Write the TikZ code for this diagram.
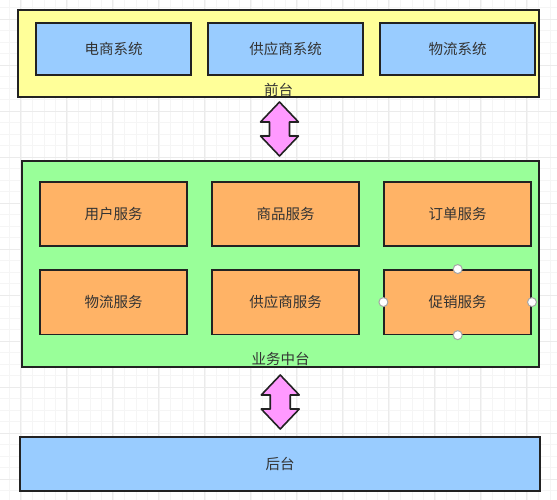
\documentclass[tikz,border=0pt]{standalone}
\usepackage{fontspec}
\setmainfont{Noto Sans CJK SC}
\usetikzlibrary{positioning, calc}
\definecolor{boxline}{HTML}{222222}
\definecolor{txt}{HTML}{333333}
\definecolor{frontyellow}{HTML}{FFFF99}
\definecolor{sysblue}{HTML}{99CCFF}
\definecolor{midgreen}{HTML}{99FF99}
\definecolor{svcorange}{HTML}{FFB366}
\definecolor{arrowpink}{HTML}{FF99FF}

\begin{document}
\begin{tikzpicture}[x=1pt,y=-1pt,font=\fontsize{14.5}{16}\selectfont,
        box/.style={draw=boxline,line width=1.6pt,inner sep=0pt,text=txt},
        layer/.style={box},
        sys/.style={box,fill=sysblue,minimum width=155pt,minimum height=52pt},
        svc/.style={box,fill=svcorange,minimum width=147pt,minimum height=64.5pt},
        layertext/.style={inner sep=0pt,text=txt},
        handle/.style={draw=gray!70,fill=white,line width=1pt},
        updown/.pic={\draw[draw=boxline,fill=arrowpink,line width=1.6pt,line join=round]
            (0,-27) -- (19,-7) -- (10,-7) -- (10,7) -- (19,7) -- (0,27)
            -- (-19,7) -- (-10,7) -- (-10,-7) -- (-19,-7) -- cycle;}]
    \useasboundingbox (0,0) rectangle (557,499);
    \begin{scope}
        \clip (0,0) rectangle (557,499);
        \draw[black!4,line width=0.4pt,shift={(20.7,19)},step=11.5pt] (-46,-46) grid (600,550);
        \draw[black!8,line width=0.5pt,shift={(20.7,19)},step=46pt] (-46,-46) grid (600,550);
    \end{scope}

    \node[layer,fill=frontyellow,minimum width=521pt,minimum height=87pt] (front) at (278.5,53.5) {};
    \node[sys] (shop) at (113.5,49) {电商系统};
    \node[sys] (supply) [right=15.5pt of shop] {供应商系统};
    \node[sys] (logistics) [right=15.5pt of supply] {物流系统};
    \node[layertext] (frontlabel) [above=1pt of front.south] {前台};

    \node[layer,fill=midgreen,minimum width=517pt,minimum height=206pt] (mid) at (280.5,264) {};
    \node[svc] (user) at (113.5,214) {用户服务};
    \node[svc] (goods) [right=23.5pt of user] {商品服务};
    \node[svc] (order) [right=23.5pt of goods] {订单服务};
    \node[svc] (ship) [below=22pt of user] {物流服务};
    \node[svc] (vendor) [right=23.5pt of ship] {供应商服务};
    \node[svc] (promo) [right=23.5pt of vendor] {促销服务};
    \node[layertext] (midlabel) [above=2pt of mid.south] {业务中台};

    \node[layer,fill=sysblue,minimum width=520pt,minimum height=54pt] (back) at (280,464) {后台};

    \pic at ($(front.south)!0.5!(mid.north)$) {updown};
    \pic at ($(mid.south)!0.5!(back.north)$) {updown};

    \foreach \side in {north,south,east,west}
        \draw[handle] (promo.\side) circle[radius=4.5pt];
\end{tikzpicture}
\end{document}
